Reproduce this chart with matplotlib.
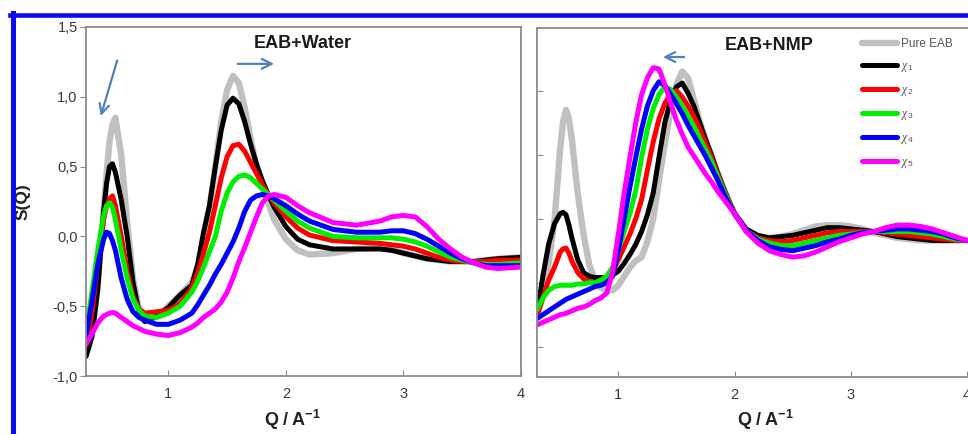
import matplotlib
matplotlib.use("Agg")
import matplotlib.pyplot as plt
from matplotlib.lines import Line2D

plt.rcParams['font.family'] = ['Liberation Sans', 'DejaVu Sans']
plt.rcParams['mathtext.fontset'] = 'custom'
plt.rcParams['mathtext.rm'] = 'Liberation Sans'
plt.rcParams['mathtext.bf'] = 'Liberation Sans:bold'
plt.rcParams['mathtext.it'] = 'Liberation Serif:italic'

# ---------------- data: EAB + Water ----------------
q_water = [0.30, 0.35, 0.40, 0.45, 0.475, 0.50, 0.525, 0.55, 0.60, 0.65, 0.70, 0.75,
           0.80, 0.90, 1.00, 1.10, 1.20, 1.25, 1.30, 1.35, 1.40, 1.45,
           1.50, 1.55, 1.60, 1.65, 1.70, 1.75, 1.80, 1.85, 1.90, 2.00,
           2.10, 2.20, 2.40, 2.60, 2.80, 2.90, 3.00, 3.10, 3.20, 3.30,
           3.40, 3.50, 3.60, 3.70, 3.80, 4.00]
water_pure = [-0.85, -0.70, -0.35, 0.20, 0.45, 0.68, 0.80, 0.85, 0.58, 0.10, -0.30, -0.52,
              -0.60, -0.58, -0.50, -0.42, -0.33, -0.22, -0.05, 0.20, 0.50, 0.82,
              1.05, 1.15, 1.10, 0.92, 0.70, 0.50, 0.36, 0.24, 0.12, -0.02,
              -0.10, -0.13, -0.12, -0.09, -0.08, -0.09, -0.12, -0.14, -0.16, -0.17,
              -0.18, -0.18, -0.18, -0.17, -0.16, -0.15]
water_x1 = [-0.86, -0.72, -0.38, 0.18, 0.38, 0.50, 0.52, 0.46, 0.26, 0.00, -0.33, -0.54,
            -0.61, -0.57, -0.51, -0.42, -0.35, -0.20, 0.03, 0.22, 0.50, 0.76,
            0.94, 0.99, 0.95, 0.82, 0.66, 0.52, 0.40, 0.30, 0.21, 0.07,
            -0.02, -0.06, -0.09, -0.09, -0.09, -0.10, -0.12, -0.14, -0.16, -0.17,
            -0.18, -0.18, -0.18, -0.17, -0.16, -0.15]
water_x2 = [-0.78, -0.55, -0.20, 0.12, 0.22, 0.27, 0.29, 0.22, 0.00, -0.25, -0.43, -0.52,
            -0.55, -0.54, -0.53, -0.48, -0.37, -0.26, -0.12, 0.03, 0.22, 0.42,
            0.57, 0.65, 0.66, 0.61, 0.53, 0.45, 0.37, 0.30, 0.24, 0.14,
            0.06, 0.01, -0.03, -0.04, -0.05, -0.06, -0.07, -0.09, -0.12, -0.15,
            -0.17, -0.18, -0.18, -0.18, -0.17, -0.17]
water_x3 = [-0.70, -0.40, -0.10, 0.15, 0.22, 0.24, 0.21, 0.12, -0.10, -0.30, -0.45, -0.53,
            -0.57, -0.58, -0.55, -0.50, -0.40, -0.32, -0.22, -0.11, 0.00, 0.18,
            0.31, 0.39, 0.43, 0.44, 0.42, 0.38, 0.34, 0.30, 0.26, 0.18,
            0.11, 0.06, 0.00, -0.01, -0.01, -0.01, -0.02, -0.04, -0.07, -0.11,
            -0.15, -0.17, -0.19, -0.20, -0.20, -0.19]
water_x4 = [-0.72, -0.47, -0.20, -0.02, 0.03, 0.02, -0.03, -0.10, -0.30, -0.45, -0.54, -0.58,
            -0.60, -0.63, -0.63, -0.60, -0.55, -0.49, -0.42, -0.35, -0.27, -0.20,
            -0.12, -0.04, 0.06, 0.18, 0.26, 0.29, 0.30, 0.29, 0.27, 0.22,
            0.16, 0.11, 0.05, 0.03, 0.03, 0.04, 0.04, 0.02, -0.02, -0.07,
            -0.12, -0.16, -0.19, -0.21, -0.21, -0.21]
water_x5 = [-0.77, -0.70, -0.62, -0.57, -0.56, -0.55, -0.545, -0.55, -0.58, -0.61, -0.64, -0.66,
            -0.68, -0.70, -0.71, -0.69, -0.65, -0.62, -0.58, -0.55, -0.52, -0.47,
            -0.40, -0.30, -0.18, -0.08, 0.03, 0.14, 0.24, 0.29, 0.30, 0.28,
            0.22, 0.17, 0.10, 0.08, 0.11, 0.14, 0.15, 0.14, 0.07, -0.02,
            -0.09, -0.15, -0.19, -0.22, -0.23, -0.22]

# ---------------- data: EAB + NMP ----------------
q_nmp = [0.30, 0.35, 0.40, 0.45, 0.50, 0.525, 0.55, 0.575, 0.60, 0.65, 0.70, 0.75,
         0.80, 0.85, 0.90, 0.95, 1.00, 1.05, 1.10, 1.15, 1.20, 1.25,
         1.30, 1.35, 1.40, 1.45, 1.50, 1.55, 1.60, 1.65, 1.70, 1.75,
         1.80, 1.85, 1.90, 1.95, 2.00, 2.10, 2.20, 2.30, 2.40, 2.50,
         2.60, 2.70, 2.80, 2.90, 3.00, 3.10, 3.20, 3.30, 3.40, 3.50,
         3.60, 3.70, 3.80, 3.90, 4.00]
nmp_pure = [-0.75, -0.60, -0.35, -0.02, 0.55, 0.76, 0.85, 0.78, 0.62, 0.20, -0.12, -0.36,
            -0.48, -0.54, -0.56, -0.56, -0.52, -0.45, -0.38, -0.33, -0.30, -0.18,
            0.00, 0.30, 0.58, 0.85, 1.05, 1.15, 1.10, 0.93, 0.76, 0.62,
            0.50, 0.37, 0.25, 0.14, 0.04, -0.09, -0.14, -0.15, -0.14, -0.12,
            -0.09, -0.06, -0.05, -0.05, -0.06, -0.08, -0.11, -0.13, -0.15, -0.16,
            -0.17, -0.17, -0.17, -0.17, -0.17]
nmp_x1 = [-0.75, -0.45, -0.20, -0.04, 0.04, 0.05, 0.03, -0.05, -0.15, -0.32, -0.42, -0.45,
          -0.46, -0.46, -0.46, -0.44, -0.41, -0.35, -0.28, -0.20, -0.10, 0.03,
          0.20, 0.48, 0.75, 0.93, 1.03, 1.06, 0.98, 0.88, 0.75, 0.62,
          0.50, 0.37, 0.25, 0.14, 0.04, -0.08, -0.13, -0.15, -0.14, -0.13,
          -0.11, -0.09, -0.07, -0.07, -0.08, -0.09, -0.10, -0.12, -0.14, -0.15,
          -0.16, -0.17, -0.17, -0.17, -0.17]
nmp_x2 = [-0.76, -0.62, -0.48, -0.38, -0.26, -0.235, -0.23, -0.27, -0.33, -0.42, -0.47, -0.49,
          -0.50, -0.49, -0.48, -0.42, -0.32, -0.22, -0.12, 0.00, 0.15, 0.38,
          0.60, 0.78, 0.90, 0.98, 1.00, 0.95, 0.88, 0.80, 0.70, 0.59,
          0.48, 0.36, 0.24, 0.14, 0.04, -0.09, -0.15, -0.17, -0.18, -0.17,
          -0.15, -0.13, -0.11, -0.10, -0.10, -0.10, -0.10, -0.11, -0.12, -0.13,
          -0.14, -0.15, -0.16, -0.17, -0.17]
nmp_x3 = [-0.71, -0.62, -0.56, -0.53, -0.52, -0.52, -0.52, -0.52, -0.52, -0.51, -0.51, -0.50,
          -0.50, -0.48, -0.45, -0.38, -0.25, -0.10, 0.04, 0.22, 0.48, 0.70,
          0.86, 0.97, 1.03, 1.01, 0.95, 0.88, 0.80, 0.72, 0.63, 0.54,
          0.45, 0.34, 0.23, 0.13, 0.04, -0.09, -0.16, -0.19, -0.21, -0.21,
          -0.19, -0.17, -0.15, -0.13, -0.12, -0.11, -0.10, -0.10, -0.10, -0.10,
          -0.11, -0.12, -0.14, -0.16, -0.17]
nmp_x4 = [-0.78, -0.75, -0.72, -0.69, -0.66, -0.645, -0.63, -0.62, -0.61, -0.59, -0.57, -0.55,
          -0.53, -0.52, -0.50, -0.45, -0.25, 0.00, 0.25, 0.48, 0.70, 0.88,
          1.00, 1.07, 1.04, 0.97, 0.90, 0.82, 0.73, 0.65, 0.57, 0.49,
          0.40, 0.31, 0.21, 0.12, 0.04, -0.09, -0.17, -0.22, -0.24, -0.25,
          -0.23, -0.21, -0.18, -0.16, -0.13, -0.11, -0.10, -0.09, -0.08, -0.08,
          -0.09, -0.10, -0.12, -0.15, -0.17]
nmp_x5 = [-0.83, -0.81, -0.79, -0.77, -0.75, -0.745, -0.74, -0.73, -0.72, -0.70, -0.69, -0.67,
          -0.64, -0.62, -0.58, -0.42, -0.12, 0.20, 0.48, 0.75, 0.97, 1.10,
          1.18, 1.17, 1.05, 0.90, 0.77, 0.66, 0.56, 0.49, 0.42, 0.35,
          0.29, 0.22, 0.16, 0.10, 0.04, -0.10, -0.19, -0.25, -0.28, -0.30,
          -0.29, -0.26, -0.22, -0.18, -0.15, -0.12, -0.10, -0.07, -0.05, -0.05,
          -0.06, -0.08, -0.11, -0.14, -0.17]

series_labels = ['Pure EAB', r'$\chi_1$', r'$\chi_2$', r'$\chi_3$', r'$\chi_4$', r'$\chi_5$']
series_colors = ['#c0c0c0', '#000000', '#ff0000', '#00ee00', '#0000ff', '#ff00ff']
series_widths = [4.6, 3.6, 3.6, 3.6, 3.6, 3.6]

water_ticks = [-1.0, -0.5, 0.0, 0.5, 1.0, 1.5]
water_ticklabels = ['-1,0', '-0,5', '0,0', '0,5', '1,0', '1,5']
x_ticks = [1, 2, 3, 4]

W, H = 968, 434
fig = plt.figure(figsize=(W / 100, H / 100), dpi=100)

def box(x0, y0, x1, y1):
    return [x0 / W, 1 - y1 / H, (x1 - x0) / W, (y1 - y0) / H]

spine_c = '#8a8a8a'
tick_c = '#3a3a3a'

# ---- left panel ----
ax1 = fig.add_axes(box(86, 27, 521, 376))
for y, c, lw in zip([water_pure, water_x1, water_x2, water_x3, water_x4, water_x5],
                    series_colors, series_widths):
    ax1.plot(q_water, y, color=c, lw=lw, solid_capstyle='round', solid_joinstyle='round')
ax1.set_xlim(0.3, 4.0)
ax1.set_ylim(-1.0, 1.5)
ax1.set_yticks(water_ticks)
ax1.set_yticklabels(water_ticklabels)
ax1.set_xticks(x_ticks)
ax1.tick_params(axis='y', direction='out', length=4, color=spine_c, labelsize=10.5,
                labelcolor=tick_c, pad=2)
ax1.tick_params(axis='x', direction='in', length=4, color=spine_c, labelsize=10.5,
                labelcolor=tick_c, pad=8)
ax1.set_ylabel('S(Q)', fontsize=12.5, fontweight='bold', color='#222222', labelpad=16)
ax1.set_xlabel(r'$\mathbf{Q\ /\ A^{-1}}$', fontsize=13, color='#222222')
ax1.xaxis.set_label_coords((292 - 86) / 435, -0.09)
ax1.text((303 - 86) / 435, 1 - (44 - 27) / 349, 'EAB+Water', transform=ax1.transAxes,
         ha='center', va='center', fontsize=13, fontweight='bold', color='#1a1a1a')
arrow_c = '#4f81bd'
ax1.annotate('', xy=(0.419, 0.843), xytext=(0.572, 1.279),
             arrowprops=dict(arrowstyle='->,head_length=0.7,head_width=0.35', color=arrow_c, lw=1.6))
ax1.annotate('', xy=(1.923, 1.236), xytext=(1.566, 1.236),
             arrowprops=dict(arrowstyle='->,head_length=0.7,head_width=0.35', color=arrow_c, lw=1.6))

# ---- right panel ----
ax2 = fig.add_axes(box(537, 27.7, 970, 376.7))
handles = []
for y, c, lw, lab in zip([nmp_pure, nmp_x1, nmp_x2, nmp_x3, nmp_x4, nmp_x5],
                         series_colors, series_widths, series_labels):
    h, = ax2.plot(q_nmp, y, color=c, lw=lw, solid_capstyle='round', solid_joinstyle='round',
                  label=lab)
    handles.append(h)
ax2.set_xlim(0.3, 0.3 + 433 / 116.2)
ax2.set_ylim(1.0 - (376.7 - 90.7) / 128, 1.0 + (90.7 - 27.7) / 128)
ax2.set_yticks([-1.0, -0.5, 0.0, 0.5, 1.0])
ax2.set_yticklabels([])
ax2.set_xticks(x_ticks)
ax2.tick_params(axis='y', direction='in', length=4, color=spine_c)
ax2.tick_params(axis='x', direction='in', length=4, color=spine_c, labelsize=10.5,
                labelcolor=tick_c, pad=8)
ax2.set_xlabel(r'$\mathbf{Q\ /\ A^{-1}}$', fontsize=13, color='#222222')
ax2.xaxis.set_label_coords((765 - 537) / 433, -0.09)
ax2.text((769 - 537) / 433, 1 - (45 - 27.7) / 349, 'EAB+NMP', transform=ax2.transAxes,
         ha='center', va='center', fontsize=13, fontweight='bold', color='#1a1a1a')
ax2.annotate('', xy=(1.36, 1.263), xytext=(1.59, 1.263),
             arrowprops=dict(arrowstyle='->,head_length=0.7,head_width=0.35', color=arrow_c, lw=1.6))
leg = ax2.legend(handles=handles, loc='upper left',
                 bbox_to_anchor=((862 - 537) / 433, 1 - (38 - 27.7) / 349),
                 frameon=False, fontsize=8.5, handlelength=3.0, handletextpad=0.3,
                 labelspacing=0.85, borderpad=0, borderaxespad=0)
for t in leg.get_texts():
    t.set_color('#555555')

for ax in (ax1, ax2):
    for s in ax.spines.values():
        s.set_color(spine_c)
        s.set_linewidth(1.3)

# ---- blue frame ----
fig.add_artist(Line2D([10 / W, 1.0], [1 - 14.5 / H, 1 - 14.5 / H], color='#0a0af5', lw=3.3,
                      transform=fig.transFigure))
fig.add_artist(Line2D([12.5 / W, 12.5 / W], [0.0, 1 - 12.5 / H], color='#0a0af5', lw=3.6,
                      transform=fig.transFigure))

fig.savefig('out.png', dpi=100)
